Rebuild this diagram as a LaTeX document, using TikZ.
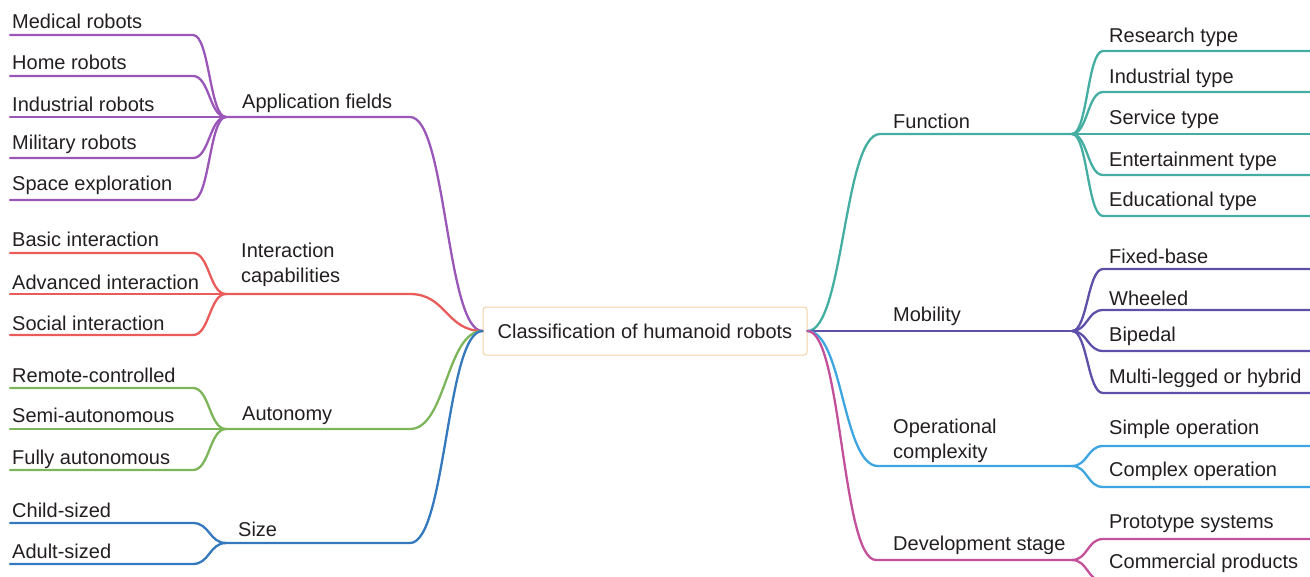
\documentclass[tikz,border=0pt]{standalone}
\usepackage{fontspec}
\setmainfont{Liberation Sans}
\usetikzlibrary{calc}
\definecolor{txt}{HTML}{231F20}
\definecolor{cApp}{HTML}{9A57B8}
\definecolor{cInt}{HTML}{E95C5A}
\definecolor{cAut}{HTML}{7DB55A}
\definecolor{cSiz}{HTML}{3478BE}
\definecolor{cFun}{HTML}{45AEA3}
\definecolor{cMob}{HTML}{5E4FA8}
\definecolor{cOpe}{HTML}{3DA5E0}
\definecolor{cDev}{HTML}{C3509A}
\definecolor{cBox}{HTML}{F0D3A6}
\begin{document}
\begin{tikzpicture}[x=1pt,y=-1pt,
  lbl/.style={anchor=base west, inner sep=0pt, text=txt, font=\fontsize{20}{24.5}\selectfont, align=left},
  root/.style={draw=cBox, line width=1pt, rounded corners=3pt, fill=white, minimum width=324pt, minimum height=48pt, inner sep=0pt, text=txt, font=\fontsize{20}{24}\selectfont},
  br/.style={line width=2.3pt, line cap=round},
  hc/.style={to path={let \p1=(\tikztostart), \p2=(\tikztotarget) in .. controls ({0.5*\x1+0.5*\x2},\y1) and ({0.5*\x1+0.5*\x2},\y2) .. (\tikztotarget) \tikztonodes}}]
\useasboundingbox (0,0) rectangle (1310,576);
\clip (0,0) rectangle (1310,576);
\node[root] (root) at (645,331) {Classification of humanoid robots};

% ---------- left side ----------
% Application fields
\coordinate (app-j) at (226,117);
\coordinate (app-b) at (410,117);
\node[lbl] (app) at (242,108) {Application fields};
\draw[br,cApp] (root.west) to[hc] (app-b) -- (app-j);
\foreach \k/\t/\ly/\by in {med/Medical robots/35/28, hom/Home robots/76/69, ind/Industrial robots/117/111, mil/Military robots/158/149, spa/Space exploration/200/190}{
  \coordinate (\k-e) at (10,\ly);
  \coordinate (\k-c) at (193,\ly);
  \node[lbl] (\k) at (12,\by) {\t};
  \draw[br,cApp] (app-j) to[hc] (\k-c) -- (\k-e);
}
% Interaction capabilities
\coordinate (int-j) at (226,294);
\coordinate (int-b) at (410,294);
\node[lbl] (int) at (241,282) {Interaction\\capabilities};
\draw[br,cInt] (root.west) to[hc] (int-b) -- (int-j);
\foreach \k/\t/\ly/\by in {bas/Basic interaction/253/246, adv/Advanced interaction/294/289, soc/Social interaction/335/330}{
  \coordinate (\k-e) at (10,\ly);
  \coordinate (\k-c) at (193,\ly);
  \node[lbl] (\k) at (12,\by) {\t};
  \draw[br,cInt] (int-j) to[hc] (\k-c) -- (\k-e);
}
% Autonomy
\coordinate (aut-j) at (226,429);
\coordinate (aut-b) at (410,429);
\node[lbl] (aut) at (242,420) {Autonomy};
\draw[br,cAut] (root.west) to[hc] (aut-b) -- (aut-j);
\foreach \k/\t/\ly/\by in {rem/Remote-controlled/388/382, sem/Semi-autonomous/429/422, ful/Fully autonomous/470/464}{
  \coordinate (\k-e) at (10,\ly);
  \coordinate (\k-c) at (193,\ly);
  \node[lbl] (\k) at (12,\by) {\t};
  \draw[br,cAut] (aut-j) to[hc] (\k-c) -- (\k-e);
}
% Size
\coordinate (siz-j) at (226,543);
\coordinate (siz-b) at (410,543);
\node[lbl] (siz) at (238,536) {Size};
\draw[br,cSiz] (root.west) to[hc] (siz-b) -- (siz-j);
\foreach \k/\t/\ly/\by in {chi/Child-sized/523/517, adu/Adult-sized/564/558}{
  \coordinate (\k-e) at (10,\ly);
  \coordinate (\k-c) at (193,\ly);
  \node[lbl] (\k) at (12,\by) {\t};
  \draw[br,cSiz] (siz-j) to[hc] (\k-c) -- (\k-e);
}

% ---------- right side ----------
% Function
\coordinate (fun-b) at (880,134);
\coordinate (fun-j) at (1072,134);
\node[lbl] (fun) at (893,128) {Function};
\draw[br,cFun] (root.east) to[hc] (fun-b) -- (fun-j);
\foreach \k/\t/\ly/\by in {res/Research type/51/42, indt/Industrial type/92/83, ser/Service type/134/124, ent/Entertainment type/175/166, edu/Educational type/216/206}{
  \coordinate (\k-c) at (1103,\ly);
  \coordinate (\k-e) at (1310,\ly);
  \node[lbl] (\k) at (1109,\by) {\t};
  \draw[br,cFun] (fun-j) to[hc] (\k-c) -- (\k-e);
}
% Mobility
\coordinate (mob-j) at (1072,331);
\node[lbl] (mob) at (893,321) {Mobility};
\draw[br,cMob] (root.east) -- (mob-j);
\foreach \k/\t/\ly/\by in {fix/Fixed-base/269/263, whe/Wheeled/310/305, bip/Bipedal/351/341, mul/Multi-legged or hybrid/393/383}{
  \coordinate (\k-c) at (1103,\ly);
  \coordinate (\k-e) at (1310,\ly);
  \node[lbl] (\k) at (1109,\by) {\t};
  \draw[br,cMob] (mob-j) to[hc] (\k-c) -- (\k-e);
}
% Operational complexity
\coordinate (ope-b) at (878,466);
\coordinate (ope-j) at (1072,466);
\node[lbl] (ope) at (893,458) {Operational\\complexity};
\draw[br,cOpe] (root.east) to[hc] (ope-b) -- (ope-j);
\foreach \k/\t/\ly/\by in {sim/Simple operation/446/434, com/Complex operation/487/476}{
  \coordinate (\k-c) at (1103,\ly);
  \coordinate (\k-e) at (1310,\ly);
  \node[lbl] (\k) at (1109,\by) {\t};
  \draw[br,cOpe] (ope-j) to[hc] (\k-c) -- (\k-e);
}
% Development stage
\coordinate (dev-b) at (876,560);
\coordinate (dev-j) at (1072,560);
\node[lbl] (dev) at (893,550) {Development stage};
\draw[br,cDev] (root.east) to[hc] (dev-b) -- (dev-j);
\foreach \k/\t/\ly/\by in {pro/Prototype systems/539/528, cmp/Commercial products/581/568}{
  \coordinate (\k-c) at (1103,\ly);
  \coordinate (\k-e) at (1310,\ly);
  \node[lbl] (\k) at (1109,\by) {\t};
  \draw[br,cDev] (dev-j) to[hc] (\k-c) -- (\k-e);
}
\end{tikzpicture}
\end{document}
